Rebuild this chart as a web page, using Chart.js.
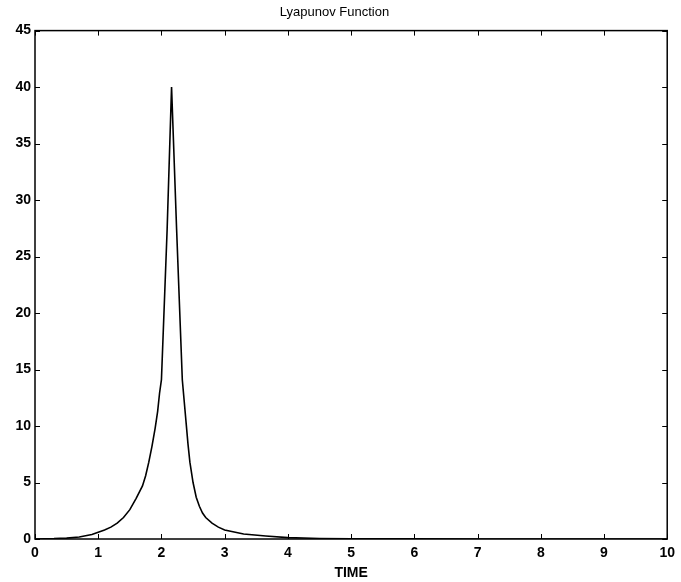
<!DOCTYPE html>
<html>
<head>
<meta charset="utf-8">
<script src="https://cdn.jsdelivr.net/npm/chart.js@4.4.1/dist/chart.umd.min.js"></script>
<style>
  html, body { margin: 0; padding: 0; background: #fff; }
  #wrap { width: 681px; height: 582px; position: relative; }
</style>
</head>
<body>
<div id="wrap"><canvas id="c" width="681" height="582"></canvas></div>
<script>
const chartTitle = "Lyapunov Function";
const xAxisTitle = "TIME";
const xTicks = [0, 1, 2, 3, 4, 5, 6, 7, 8, 9, 10];
const yTicks = [0, 5, 10, 15, 20, 25, 30, 35, 40, 45];
const time = [0, 0.3, 0.5, 0.7, 0.9, 1.0, 1.1, 1.2, 1.3, 1.4, 1.5, 1.6, 1.7, 1.75, 1.8, 1.85, 1.9, 1.94, 1.97, 2.0, 2.09, 2.16, 2.24, 2.33, 2.39, 2.42, 2.45, 2.5, 2.55, 2.6, 2.65, 2.7, 2.8, 2.9, 3.0, 3.3, 3.65, 4.0, 4.5, 5, 6, 7, 8, 9, 10];
const lyapunov = [0, 0.03, 0.08, 0.18, 0.4, 0.6, 0.8, 1.05, 1.4, 1.9, 2.6, 3.6, 4.7, 5.6, 6.8, 8.2, 9.8, 11.3, 12.9, 14.1, 27.4, 40, 27.4, 14.1, 10.3, 8.4, 6.8, 5.0, 3.7, 2.9, 2.3, 1.9, 1.4, 1.05, 0.8, 0.44, 0.27, 0.12, 0.05, 0.02, 0.01, 0, 0, 0, 0];

const points = time.map((t, i) => ({ x: t, y: lyapunov[i] }));

const boxTicks = {
  id: 'boxTicks',
  afterDraw(chart) {
    const { ctx, chartArea: a, scales } = chart;
    ctx.save();
    ctx.strokeStyle = '#000';
    ctx.lineWidth = 1.5;
    ctx.strokeRect(a.left, a.top, a.right - a.left, a.bottom - a.top);
    ctx.lineWidth = 1;
    const L = 5;
    ctx.beginPath();
    xTicks.forEach(v => {
      const px = Math.round(scales.x.getPixelForValue(v)) + 0.5;
      ctx.moveTo(px, a.bottom); ctx.lineTo(px, a.bottom - L);
      ctx.moveTo(px, a.top); ctx.lineTo(px, a.top + L);
    });
    yTicks.forEach(v => {
      const py = Math.round(scales.y.getPixelForValue(v)) + 0.5;
      ctx.moveTo(a.left, py); ctx.lineTo(a.left + L, py);
      ctx.moveTo(a.right, py); ctx.lineTo(a.right - L, py);
    });
    ctx.stroke();
    ctx.restore();
  }
};

new Chart(document.getElementById('c'), {
  type: 'scatter',
  data: {
    datasets: [{
      data: points,
      showLine: true,
      borderColor: '#000',
      borderWidth: 1.6,
      pointRadius: 0,
      tension: 0,
      fill: false
    }]
  },
  options: {
    responsive: false,
    animation: false,
    layout: { padding: { left: 0, right: 12, top: 0, bottom: 0 } },
    plugins: {
      legend: { display: false },
      tooltip: { enabled: false },
      title: {
        display: true,
        text: chartTitle,
        color: '#000',
        font: { family: 'Liberation Sans, Arial, sans-serif', size: 13, weight: 'normal' },
        padding: { top: 5, bottom: 10 }
      }
    },
    scales: {
      x: {
        type: 'linear',
        min: 0, max: 10,
        afterBuildTicks: s => { s.ticks = xTicks.map(v => ({ value: v })); },
        afterFit: s => { s.height = 43; },
        grid: { display: false, drawTicks: false },
        border: { display: false },
        ticks: {
          color: '#000', padding: 6, maxRotation: 0, autoSkip: false,
          font: { family: 'Liberation Sans, Arial, sans-serif', size: 14, weight: 'bold' }
        },
        title: {
          display: true, text: xAxisTitle, color: '#000', padding: { top: 0, bottom: 0 },
          font: { family: 'Liberation Sans, Arial, sans-serif', size: 14, weight: 'bold' }
        }
      },
      y: {
        type: 'linear',
        min: 0, max: 45,
        afterBuildTicks: s => { s.ticks = yTicks.map(v => ({ value: v })); },
        afterFit: s => { s.width = 35; },
        grid: { display: false, drawTicks: false },
        border: { display: false },
        ticks: {
          color: '#000', padding: 4, autoSkip: false,
          font: { family: 'Liberation Sans, Arial, sans-serif', size: 14, weight: 'bold' }
        }
      }
    }
  },
  plugins: [boxTicks]
});
</script>
</body>
</html>
